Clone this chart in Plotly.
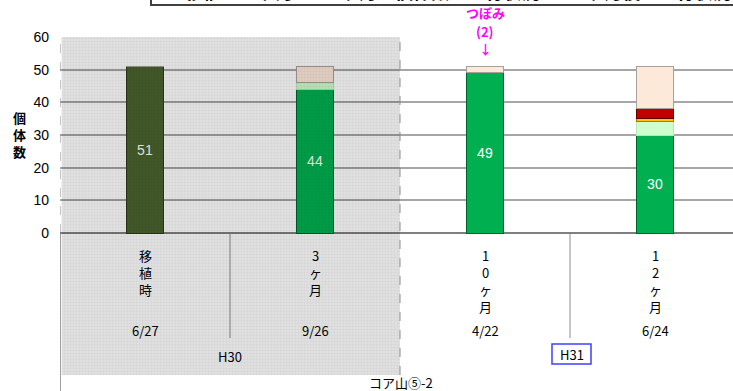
import plotly.graph_objects as go

# ---- data -------------------------------------------------------------
categories = ["移植時", "3ヶ月", "10ヶ月", "12ヶ月"]
survey_dates = ["6/27", "9/26", "4/22", "6/24"]
era_labels = ["H30", "H31"]
site_label = "コア山⑤-2"

transplanted = [51, 0, 0, 0]   # count at transplanting
healthy = [0, 44, 49, 30]      # vigorous plants
weakened = [0, 2, 0, 4]        # weak plants
yellowing = [0, 0, 0, 1]
withering = [0, 0, 0, 3]
lost = [0, 5, 2, 13]
bud_count = 2                  # buds noted at 10 months

# ---- geometry helpers (figure pixels -> coordinates) -------------------
W, H = 733, 391
ML, MT = 60, 37
Y_TOP = 60
PX_PER_UNIT = 196 / 60.0
Y_BOTTOM = Y_TOP - (H - MT) / PX_PER_UNIT
X_RIGHT = -0.5 + (W - ML) / 170.0


def ypx(py):
    """data y for a figure pixel row"""
    return Y_TOP - (py - MT) / PX_PER_UNIT


def paper_y(py):
    return (H - py) / (H - MT)


def paper_x(px):
    return (px - ML) / (W - ML)


x = list(range(len(categories)))

series = [
    ("移植時", transplanted, "#4A632E", "#2A3A18"),
    ("良好", healthy, "#00B050", "#00602A"),
    ("衰弱", weakened, "#CCFFCC", "#B8E8B8"),
    ("黄変", yellowing, "#FFC000", "#B07800"),
    ("枯れかけ", withering, "#C00000", "#600000"),
    ("消失", lost, "#FDE9D9", "#A8A09A"),
]

fig = go.Figure()
for i, (name, vals, color, edge) in enumerate(series):
    if i in (0, 1):
        txt = [str(v) if v else "" for v in vals]
    else:
        txt = ["" for _ in vals]
    fig.add_trace(go.Bar(
        x=x, y=vals, name=name, width=0.22,
        marker=dict(color=color, line=dict(color=edge, width=1)),
        text=txt, textposition="inside", insidetextanchor="middle",
        textfont=dict(family="Liberation Sans Narrow, Arial Narrow, sans-serif",
                      size=14, color="white"),
        hoverinfo="skip",
    ))

# shaded block over the H30 period
y_shade_bottom = ypx(375)
fig.add_trace(go.Scatter(
    x=[-0.49, 1.5, 1.5, -0.49, -0.49],
    y=[Y_TOP, Y_TOP, y_shade_bottom, y_shade_bottom, Y_TOP],
    mode="lines", fill="toself",
    line=dict(width=0, color="rgba(0,0,0,0)"),
    fillcolor="rgba(0,0,0,0.13)",
    fillpattern=dict(shape="+", size=3, solidity=0.3,
                     bgcolor="rgba(0,0,0,0.12)",
                     fgcolor="rgba(0,0,0,0.10)"),
    hoverinfo="skip", showlegend=False,
))

shapes = []
# left border and category separators below the baseline
shapes.append(dict(type="line", xref="x", yref="y", x0=-0.5, x1=-0.5,
                   y0=0, y1=Y_BOTTOM, line=dict(color="#808080", width=1.5),
                   layer="above"))
for sx in (0.5, 2.5):
    shapes.append(dict(type="line", xref="x", yref="y", x0=sx, x1=sx,
                       y0=0, y1=ypx(338), line=dict(color="#8C8C8C", width=1),
                       layer="below"))
# dashed outline of the shaded block
shapes.append(dict(type="line", xref="x", yref="y", x0=-0.5, x1=-0.5,
                   y0=0, y1=Y_TOP, line=dict(color="#8C8C8C", width=1, dash="dash"),
                   layer="above"))
shapes.append(dict(type="line", xref="x", yref="y", x0=1.5, x1=1.5,
                   y0=y_shade_bottom, y1=Y_TOP,
                   line=dict(color="#8C8C8C", width=1, dash="dash"), layer="above"))
# title frame
shapes.append(dict(type="rect", xref="paper", yref="paper",
                   x0=paper_x(151), x1=1.05, y0=paper_y(5), y1=1.3,
                   line=dict(color="#404040", width=2), fillcolor="white",
                   layer="above"))
# H31 frame
shapes.append(dict(type="rect", xref="x", yref="y",
                   x0=2.5 - 18 / 170, x1=2.5 + 21 / 170, y0=ypx(344), y1=ypx(364),
                   line=dict(color="#4040FF", width=1.5), fillcolor="white",
                   layer="above"))

label_font = dict(family="Noto Sans CJK JP, sans-serif", size=13, color="black")
annotations = []
for xi, (cat, d) in enumerate(zip(categories, survey_dates)):
    annotations.append(dict(x=xi, y=ypx(244), xref="x", yref="y",
                            text="<br>".join(list(cat)), showarrow=False,
                            yanchor="top", font=label_font))
    annotations.append(dict(x=xi, y=ypx(330), xref="x", yref="y", text=d,
                            showarrow=False, font=label_font))
annotations.append(dict(x=0.5, y=ypx(356), xref="x", yref="y", text=era_labels[0],
                        showarrow=False, font=label_font))
annotations.append(dict(x=2.5 + 1.5 / 170, y=ypx(354), xref="x", yref="y",
                        text=era_labels[1], showarrow=False, font=label_font))
annotations.append(dict(x=paper_x(401), y=paper_y(382), xref="paper", yref="paper",
                        text=site_label, showarrow=False, font=label_font,
                        xanchor="center", yanchor="middle"))

# y-axis title, stacked vertically
annotations.append(dict(x=paper_x(19), y=paper_y(134), xref="paper", yref="paper",
                        text="<b>個<br>体<br>数</b>", showarrow=False,
                        xanchor="center", yanchor="middle",
                        font=dict(family="Noto Sans CJK JP, sans-serif", size=13,
                                  color="black")))

# bud note above the 10-month bar
bud_font = dict(family="Noto Sans CJK JP, sans-serif", size=13, color="#FF00FF")
for txt, py in (("<b>つぼみ</b>", 13), (f"<b>({bud_count})</b>", 31), ("<b>↓</b>", 48)):
    annotations.append(dict(x=2, y=paper_y(py), xref="x", yref="paper",
                            text=txt, showarrow=False, font=bud_font,
                            xanchor="center", yanchor="middle"))

# chart title, mostly cut off by the top edge
annotations.append(dict(x=paper_x(183), y=paper_y(6), xref="paper", yref="paper",
                        text="<b>移植 ー 3ヶ月 ー 10ヶ月の個体数と生育状況 ー 12ヶ月後の生育状況</b>",
                        showarrow=False, xanchor="left", yanchor="bottom",
                        font=dict(family="Noto Sans CJK JP, sans-serif", size=18,
                                  color="black")))

fig.update_layout(
    width=W, height=H,
    margin=dict(l=ML, r=0, t=MT, b=0, pad=0),
    barmode="stack",
    showlegend=False,
    paper_bgcolor="white", plot_bgcolor="white",
    shapes=shapes, annotations=annotations,
    xaxis=dict(range=[-0.5, X_RIGHT], showticklabels=False, showgrid=False,
               zeroline=False, showline=False, fixedrange=True),
    yaxis=dict(range=[Y_BOTTOM, Y_TOP], tickvals=[0, 10, 20, 30, 40, 50, 60],
               showgrid=True, gridcolor="#A6A6A6", gridwidth=1.5,
               zeroline=True, zerolinecolor="#7F7F7F", zerolinewidth=1.5,
               showline=False, ticks="", ticklabelstandoff=10,
               tickfont=dict(family="Liberation Sans Narrow, Arial Narrow, sans-serif",
                             size=14, color="black"),
               fixedrange=True),
)

fig.write_html("out.html")
